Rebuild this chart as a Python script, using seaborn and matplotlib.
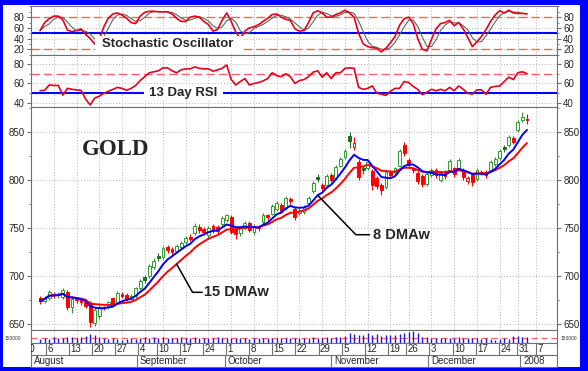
import numpy as np
import pandas as pd
import matplotlib
matplotlib.use("Agg")
import matplotlib.pyplot as plt
from matplotlib.patches import Rectangle
from matplotlib.ticker import MultipleLocator
import seaborn as sns

# daily gold prices, 1 Aug 2007 .. 3 Jan 2008 (trading days)
opens = [677, 674, 677, 681, 680, 678, 683, 668, 676, 675,
         673, 672, 651, 658, 667, 668, 677, 672, 681, 680,
         676, 679, 687, 699, 700, 709, 721, 720, 730, 728,
         726, 730, 735, 741, 745, 751, 749, 743, 752, 751,
         754, 758, 761, 748, 745, 750, 755, 746, 751, 756,
         763, 765, 770, 774, 771, 780, 770, 766, 767, 776,
         788, 803, 795, 795, 805, 802, 815, 824, 846, 834,
         819, 812, 812, 809, 802, 795, 793, 808,
         808, 815, 836, 821, 811, 807, 804, 796, 805, 810,
         800, 808, 810, 812, 812, 810, 799, 805, 801, 808,
         808, 810, 817, 823, 834, 836, 844, 852, 862, 864]
highs = [679, 679, 685, 683, 683, 687, 685, 679, 678, 677,
         675, 674, 667, 670, 669, 674, 678, 684, 683, 682,
         681, 689, 697, 701, 712, 719, 724, 731, 732, 730,
         733, 736, 742, 744, 755, 754, 751, 752, 754, 753,
         762, 765, 763, 750, 752, 757, 757, 754, 753, 766,
         765, 775, 778, 776, 783, 782, 772, 771, 774, 783,
         799, 806, 797, 806, 807, 816, 824, 832, 850, 845,
         822, 815, 821, 811, 804, 797, 810, 810,
         814, 832, 840, 823, 814, 809, 806, 808, 812, 812,
         809, 810, 822, 814, 823, 812, 804, 807, 812, 810,
         810, 821, 824, 832, 836, 847, 846, 862, 871, 869]
lows = [671, 672, 675, 677, 677, 676, 665, 661, 672, 670,
        667, 647, 648, 655, 665, 666, 669, 671, 677, 674,
        675, 677, 685, 693, 698, 707, 716, 718, 724, 722,
        724, 728, 733, 736, 743, 745, 743, 740, 745, 744,
        752, 756, 744, 739, 742, 748, 746, 743, 747, 754,
        758, 763, 768, 766, 769, 775, 758, 764, 765, 774,
        786, 798, 789, 793, 798, 800, 813, 822, 833, 831,
        800, 806, 810, 790, 791, 784, 791, 802,
        806, 813, 825, 813, 807, 796, 793, 794, 803, 802,
        798, 801, 808, 803, 810, 800, 796, 794, 799, 805,
        802, 808, 815, 821, 829, 834, 837, 850, 860, 858]
closes = [674, 677, 683, 680, 681, 685, 668, 676, 675, 673,
          669, 652, 665, 668, 667.5, 673, 671, 682, 679, 676,
          679, 687, 695, 696, 710, 716, 719, 729, 727, 725,
          731, 734, 740, 739, 752, 748, 746, 750, 748, 747,
          760, 763, 746, 744, 750, 755, 748, 752, 750, 764,
          761, 773, 776, 768, 781, 778, 761, 769, 772, 781,
          797, 801, 792, 804, 800, 814, 822, 830, 841, 839,
          803, 810, 819, 795, 794, 790, 808, 805,
          812, 830, 828, 816, 810, 799, 796, 806, 810, 805,
          807, 804, 820, 806, 821, 803, 802, 798, 810, 807,
          805, 819, 822, 830, 832, 845, 840, 860, 866, 862]

stoch_k = [55, 70, 77, 82, 82, 75, 56, 53, 55, 58,
           48, 40, 30, 38, 62, 78, 86, 88, 84, 78,
           70, 68, 82, 89, 91, 91, 90, 90, 90, 86,
           78, 72, 72, 80, 82, 80, 72, 66, 54, 57,
           74, 88, 72, 52, 40, 54, 60, 62, 66, 72,
           78, 85, 86, 80, 76, 74, 58, 54, 55, 70,
           88, 92, 88, 80, 80, 85, 88, 93, 88, 80,
           50, 30, 25, 23, 22, 15, 22, 32,
           44, 65, 77, 80, 68, 40, 20, 17, 38, 58,
           68, 70, 74, 64, 70, 58, 42, 25, 34, 44,
           57, 72, 84, 92, 88, 93, 88, 87, 87, 86]

rsi = [52.6, 53, 58.5, 58, 58, 48, 55, 54, 53.5, 53,
       44, 38, 45, 47, 50, 52, 54, 56, 55, 53,
       55, 58, 63, 67, 71, 72, 73, 76, 76, 73,
       71, 74, 75, 75, 77, 75.5, 75, 75, 72.6, 74,
       75.5, 79, 64, 58.5, 62, 65, 58.5, 60, 61, 62.6,
       65, 71, 68, 67, 70, 67, 60, 63, 64, 67,
       71.6, 73, 66.5, 71, 65, 71, 71, 75.5, 76, 75.5,
       56, 54, 55, 57.5, 50, 49, 47.8, 52,
       55, 55, 62, 61, 57, 54, 48.5, 51, 54, 52.6,
       54, 52.6, 56, 52.6, 57.5, 54, 50, 49, 53.5, 53.5,
       49, 56, 57, 57.5, 62, 66.5, 64, 71, 72, 70]

volume = [30, 35, 30, 45, 35, 40, 45, 50, 40, 45,
          55, 70, 60, 45, 35, 30, 35, 30, 25, 30,
          35, 30, 40, 45, 40, 45, 40, 45, 40, 35,
          40, 45, 40, 40, 45, 40, 35, 40, 40, 45,
          40, 35, 40, 35, 40, 35, 30, 35, 40, 35,
          40, 35, 40, 35, 40, 35, 40, 35, 35, 40,
          45, 40, 35, 45, 40, 50, 45, 55, 80, 70,
          65, 60, 75, 60, 70, 55, 65, 60,
          60, 70, 75, 85, 90, 80, 50, 45, 40, 40,
          35, 40, 35, 40, 45, 40, 35, 40, 35, 30,
          35, 30, 25, 30, 35, 30, 55, 55, 50, 50]
vol_avg = 41

month_names = ["August", "September", "October", "November", "December", "2008"]

o = np.array(opens, float)
h = np.array(highs, float)
l = np.array(lows, float)
c = np.array(closes, float)
n = len(c)
x = np.arange(n)

hol = pd.to_datetime(["2007-09-03", "2007-11-22", "2007-12-25", "2008-01-01"])
cal = pd.bdate_range("2007-07-30", "2008-01-11")
cal = cal[~cal.isin(hol)]
start = cal.get_loc(pd.Timestamp("2007-08-01"))
pos = np.arange(len(cal)) - start

wk_pos, wk_lab, mo_pos = [], [], []
for i in range(len(cal)):
    if i == 0 or cal[i].weekday() < cal[i - 1].weekday():
        wk_pos.append(pos[i])
        wk_lab.append(str(cal[i].day))
    if i > 0 and cal[i].month != cal[i - 1].month and pos[i] < n:
        mo_pos.append(pos[i])


def wma(v, k):
    out = []
    for i in range(len(v)):
        w = np.arange(1, min(k, i + 1) + 1)
        out.append(np.dot(v[i + 1 - len(w):i + 1], w) / w.sum())
    return np.array(out)


ma8 = wma(c, 8)
ma15 = wma(c, 15)
stoch_d = pd.Series(stoch_k).rolling(3, min_periods=1).mean().values

sns.set_style("white")
plt.rcParams["font.family"] = ["Liberation Sans", "DejaVu Sans"]

W, H = 588, 371
fig = plt.figure(figsize=(W / 100, H / 100), dpi=100)
fig.patch.set_facecolor("#0000ff")
fig.add_artist(Rectangle((3 / W, 1 - 367 / H), 577 / W, 362 / H, transform=fig.transFigure,
                         facecolor="white", edgecolor="none", zorder=-10))


def rect(x0, y0, x1, y1):
    return [x0 / W, 1 - y1 / H, (x1 - x0) / W, (y1 - y0) / H]


XL = (-0.24, 113.6)
GRID = "#b4b4b4"
EDGE = "#707070"


def style(ax, ylim, yt=None, minor=None):
    ax.set_xlim(*XL)
    ax.set_ylim(*ylim)
    ax.set_xticks(wk_pos)
    ax.tick_params(axis="x", length=0, labelbottom=False)
    ax.grid(True, ls=(0, (1, 2)), color=GRID, lw=0.7)
    ax.set_axisbelow(True)
    for s in ax.spines.values():
        s.set_color(EDGE)
        s.set_linewidth(0.8)
    if yt is None:
        ax.set_yticks([])
        return
    ax.set_yticks(yt)
    ax.yaxis.set_minor_locator(MultipleLocator(minor))
    ax.tick_params(axis="y", which="both", left=True, right=True, labelleft=True,
                   labelright=True, labelsize=7, pad=1.5, color=EDGE)
    ax.tick_params(axis="y", which="major", length=3)
    ax.tick_params(axis="y", which="minor", length=1.5)


# stochastic panel
ax_st = fig.add_axes(rect(31, 6, 557, 55))
style(ax_st, (9.3, 100.9), [20, 40, 60, 80], 10)
for lv in (80, 20):
    ax_st.axhline(lv, color="#ff6060", ls=(0, (6, 3)), lw=1.0, zorder=1)
ax_st.axhline(50, color="#0000ff", lw=1.5, zorder=1.5)
sns.lineplot(x=x, y=stoch_d, ax=ax_st, color="#5a6a5a", lw=0.8, zorder=2)
sns.lineplot(x=x, y=stoch_k, ax=ax_st, color="#e8001c", lw=1.2, zorder=2.5)
ax_st.add_patch(Rectangle((12.1, 15), 32.5, 29, facecolor="white", edgecolor="none", zorder=4))
ax_st.text(28.1, 30, "Stochastic Oscillator", fontsize=9.5, fontweight="bold",
           ha="center", va="center", zorder=5)
ax_st.set_xlabel("")
ax_st.set_ylabel("")

# RSI panel
ax_r = fig.add_axes(rect(31, 55, 557, 107))
style(ax_r, (35.9, 89.2), [40, 60, 80], 10)
ax_r.axhline(70, color="#ff6060", ls=(0, (6, 3)), lw=1.0, zorder=1)
ax_r.axhline(50, color="#0000ff", lw=1.5, zorder=1.5)
sns.lineplot(x=x, y=rsi, ax=ax_r, color="#e8001c", lw=1.2, zorder=2.5)
ax_r.add_patch(Rectangle((22.9, 43), 17.3, 14.4, facecolor="white", edgecolor="none", zorder=4))
ax_r.text(31.5, 50, "13 Day RSI", fontsize=9.5, fontweight="bold",
          ha="center", va="center", zorder=5)
ax_r.set_xlabel("")
ax_r.set_ylabel("")

# price panel
ax_p = fig.add_axes(rect(31, 107, 557, 330))
style(ax_p, (643.75, 876), [650, 700, 750, 800, 850], 25)
prev = np.r_[o[0], c[:-1]]
up = c >= prev
filled = c < o
col = np.where(up, "#2f9a2f", "#ff0000")
col = np.where(up & filled, "#1e6e1e", col)
face = np.where(filled, col, "white")
ax_p.vlines(x, l, h, colors=col, lw=0.8, zorder=2)
ax_p.bar(x, np.maximum(np.abs(c - o), 0.8), bottom=np.minimum(o, c), width=0.62,
         color=face, edgecolor=col, linewidth=0.7, zorder=2.5)
sns.lineplot(x=x, y=ma15, ax=ax_p, color="#ff0000", lw=1.4, zorder=3)
sns.lineplot(x=x, y=ma8, ax=ax_p, color="#0000ff", lw=1.4, zorder=3.2)
ax_p.set_xlabel("")
ax_p.set_ylabel("")

ax_p.plot([30, 33.5, 35.6], [ma15[30], 683, 683], color="black", lw=1.1, zorder=4)
ax_p.text(36.0, 683, "15 DMAw", fontsize=10.5, fontweight="bold", ha="left", va="center")
ax_p.plot([61, 69.4, 72.4], [ma8[61], 743, 743], color="black", lw=1.1, zorder=4)
ax_p.text(73.2, 743, "8 DMAw", fontsize=10.5, fontweight="bold", ha="left", va="center")
ax_p.text(0.097, 0.81, "GOLD", transform=ax_p.transAxes, fontsize=16.5, fontweight="bold",
          family=["Liberation Serif", "DejaVu Serif"], ha="left", va="center")

# volume panel
ax_v = fig.add_axes(rect(31, 330, 557, 343))
style(ax_v, (0, 100))
ax_v.vlines(x, 0, volume, colors="#1a1ae0", lw=1.0, zorder=2)
ax_v.axhline(vol_avg, color="#ff6060", ls=(0, (5, 3)), lw=0.9, zorder=1.5)
fig.text(5 / W, 1 - 338 / H, "150000", fontsize=3.5, va="center", ha="left", color="#333333")
fig.text(561 / W, 1 - 338 / H, "150000", fontsize=3.5, va="center", ha="left", color="#333333")

# date scale
ax_d = fig.add_axes(rect(31, 343, 557, 367))
ax_d.set_xlim(*XL)
ax_d.set_ylim(0, 2)
ax_d.set_xticks([])
ax_d.set_yticks([])
for s in ax_d.spines.values():
    s.set_color(EDGE)
    s.set_linewidth(0.8)
ax_d.axhline(1, color=EDGE, lw=0.8)
for t, lab in zip(wk_pos, wk_lab):
    ax_d.plot([t, t], [1, 2], color=EDGE, lw=0.8, clip_on=True)
    ax_d.text(t + 0.3, 1.5, lab, fontsize=7, ha="left", va="center", clip_on=True)
for m, name in zip(mo_pos, month_names):
    ax_d.plot([m - 0.3, m - 0.3], [0, 1], color=EDGE, lw=0.8, clip_on=True)
    ax_d.text(m + 0.3, 0.48, name, fontsize=7, ha="left", va="center", clip_on=True)

fig.savefig("out.png", dpi=100, facecolor=fig.get_facecolor())
